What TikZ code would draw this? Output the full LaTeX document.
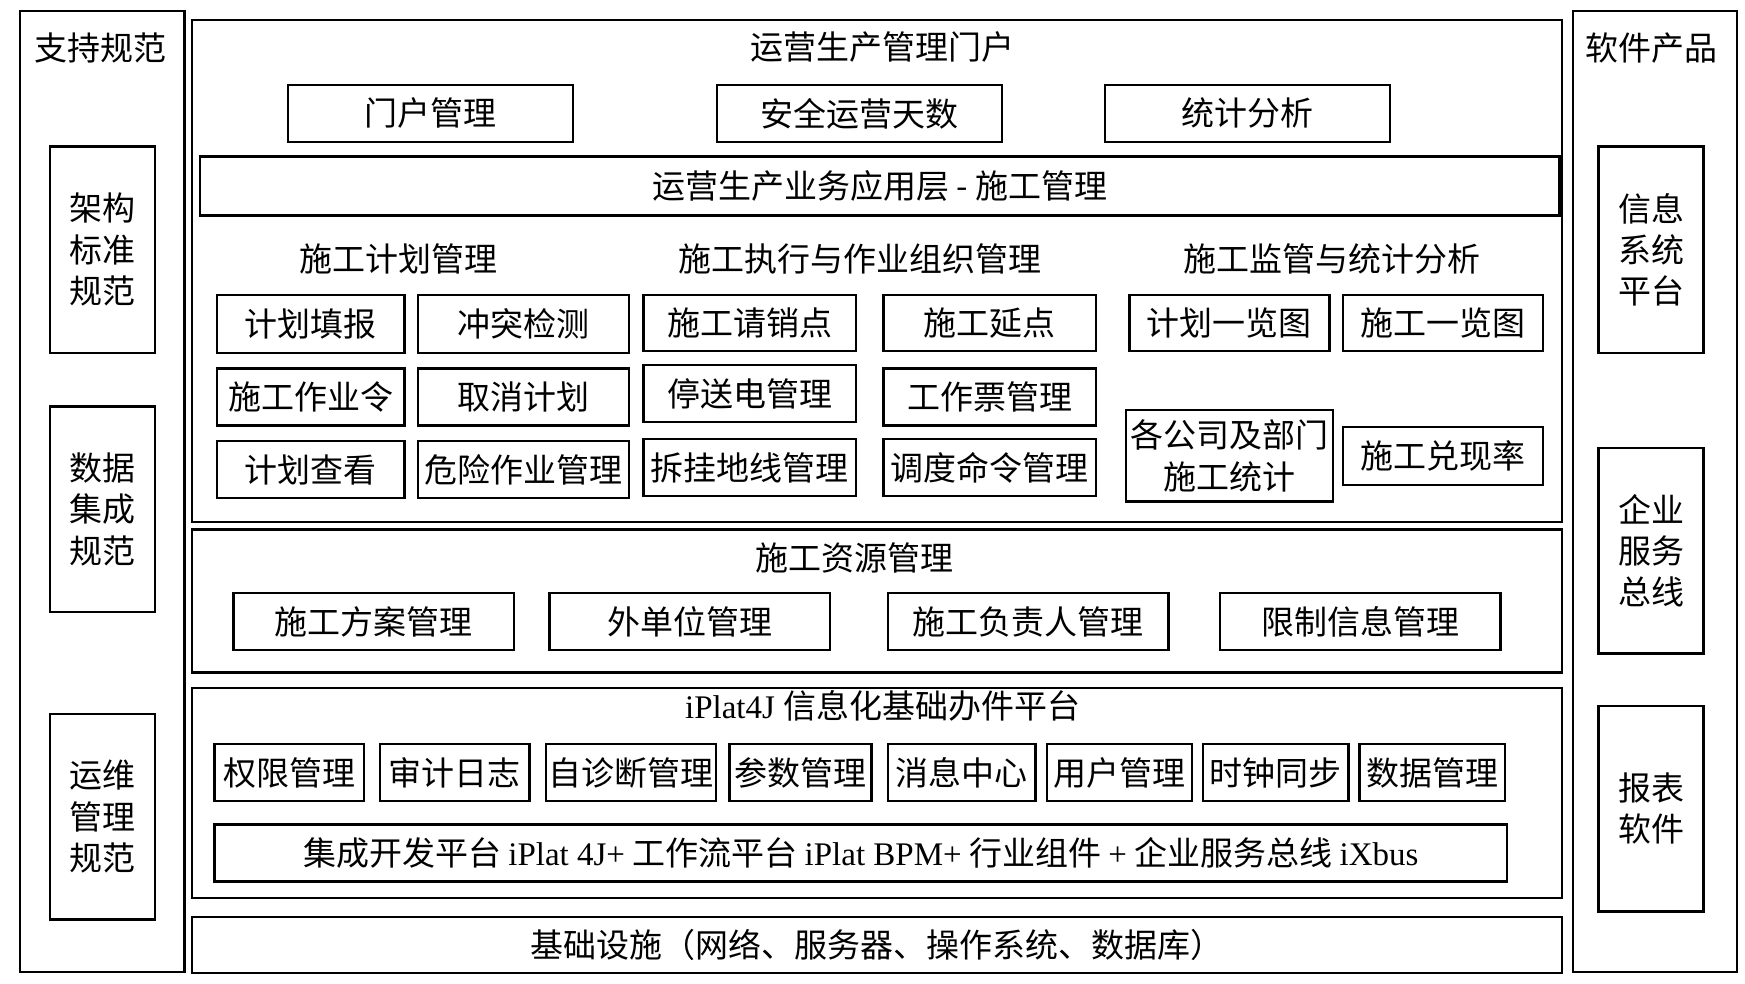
\documentclass[tikz,border=0pt]{standalone}
\usepackage{fontspec}
\setmainfont{Liberation Serif}
\newfontfamily\cjk{Noto Sans CJK SC}
\usetikzlibrary{fit}

\tikzset{
  box/.style={draw,line width=0.6pt,inner sep=0pt},
  lbl/.style={inner sep=0pt,align=center}
}
% box from corner to corner, text in the middle
\newcommand\bx[6]{\node[box,fit={(#2,#3)(#4,#5)},label={[lbl]center:{#6}}] (#1) {};}

\begin{document}
\begin{tikzpicture}[x=0.1mm,y=-0.1mm,font=\cjk\fontsize{8.4}{10.5}\selectfont]
\useasboundingbox (0,0) rectangle (1562,880);

% left column
\bx{spec}{18}{10}{165}{870}{}
\node[lbl] (specT) at (90,43) {支持规范};
\bx{arch}{45}{131}{139}{316}{架构\\标准\\规范}
\bx{data}{45}{364}{139}{548}{数据\\集成\\规范}
\bx{ops}{45}{639}{139}{823}{运维\\管理\\规范}

% right column
\bx{soft}{1408}{10}{1555}{870}{}
\node[lbl] (softT) at (1478,43) {软件产品};
\bx{info}{1431}{131}{1525}{316}{信息\\系统\\平台}
\bx{esb}{1431}{401}{1525}{585}{企业\\服务\\总线}
\bx{rep}{1431}{632}{1525}{816}{报表\\软件}

% portal
\bx{portal}{172}{18}{1398}{467}{}
\node[lbl] (portalT) at (790,42) {运营生产管理门户};
\bx{p1}{258}{76}{513}{127}{门户管理}
\bx{p2}{642}{76}{897}{127}{安全运营天数}
\bx{p3}{989}{76}{1244}{127}{统计分析}
\bx{layer}{179}{140}{1396}{193}{运营生产业务应用层 - 施工管理}

\node[lbl] (g1) at (357,232) {施工计划管理};
\node[lbl] (g2) at (770,232) {施工执行与作业组织管理};
\node[lbl] (g3) at (1192,232) {施工监管与统计分析};

\bx{a1}{194}{264}{362}{316}{计划填报}
\bx{a2}{374}{264}{563}{316}{冲突检测}
\bx{a3}{194}{330}{362}{381}{施工作业令}
\bx{a4}{374}{330}{563}{381}{取消计划}
\bx{a5}{194}{395}{362}{446}{计划查看}
\bx{a6}{374}{395}{563}{446}{危险作业管理}

\bx{b1}{576}{264}{766}{314}{施工请销点}
\bx{b2}{791}{264}{981}{314}{施工延点}
\bx{b3}{576}{327}{766}{378}{停送电管理}
\bx{b4}{791}{330}{981}{381}{工作票管理}
\bx{b5}{576}{393}{766}{444}{拆挂地线管理}
\bx{b6}{791}{393}{981}{444}{调度命令管理}

\bx{c1}{1011}{264}{1190}{314}{计划一览图}
\bx{c2}{1202}{264}{1381}{314}{施工一览图}
\bx{c3}{1008}{367}{1193}{449}{各公司及部门\\施工统计}
\bx{c4}{1202}{382}{1381}{434}{施工兑现率}

% resources
\bx{res}{172}{474}{1398}{602}{}
\node[lbl] (resT) at (765,499) {施工资源管理};
\bx{r1}{209}{531}{460}{582}{施工方案管理}
\bx{r2}{492}{531}{743}{582}{外单位管理}
\bx{r3}{795}{531}{1046}{582}{施工负责人管理}
\bx{r4}{1092}{531}{1343}{582}{限制信息管理}

% platform
\bx{plat}{172}{616}{1398}{804}{}
\node[lbl] (platT) at (790,632) {\rmfamily iPlat4J \cjk 信息化基础办件平台};
\bx{m1}{192}{666}{326}{717}{权限管理}
\bx{m2}{340}{666}{474}{717}{审计日志}
\bx{m3}{489}{666}{641}{717}{自诊断管理}
\bx{m4}{653}{666}{780}{717}{参数管理}
\bx{m5}{795}{666}{927}{717}{消息中心}
\bx{m6}{937}{666}{1067}{717}{用户管理}
\bx{m7}{1077}{666}{1207}{717}{时钟同步}
\bx{m8}{1217}{666}{1347}{717}{数据管理}
\bx{dev}{192}{738}{1349}{789}{集成开发平台 {\rmfamily iPlat 4J+} 工作流平台 {\rmfamily iPlat BPM+} 行业组件 {\rmfamily +} 企业服务总线 {\rmfamily iXbus}}

% infrastructure
\bx{infra}{172}{821}{1398}{871}{基础设施（网络、服务器、操作系统、数据库）}
\end{tikzpicture}
\end{document}
